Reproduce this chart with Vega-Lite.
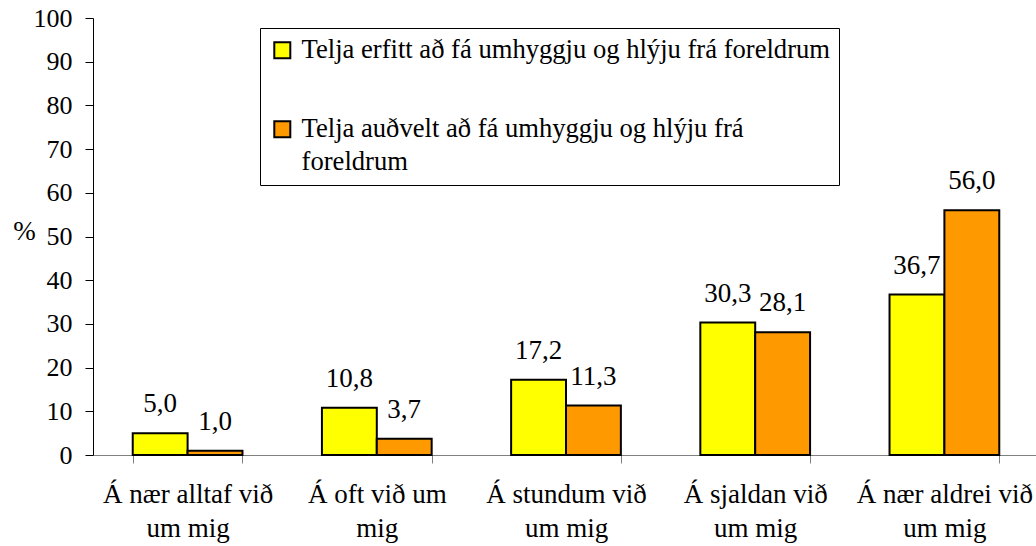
{
  "$schema": "https://vega.github.io/schema/vega-lite/v6.json",
  "width": 946,
  "height": 437,
  "autosize": "none",
  "padding": {"left": 93, "top": 18, "right": 0, "bottom": 91},
  "background": "white",
  "data": {
    "values": [
      {"category": "Á nær alltaf við um mig", "series": "Telja erfitt að fá umhyggju og hlýju frá foreldrum", "value": 5.0},
      {"category": "Á nær alltaf við um mig", "series": "Telja auðvelt að fá umhyggju og hlýju frá foreldrum", "value": 1.0},
      {"category": "Á oft við um mig", "series": "Telja erfitt að fá umhyggju og hlýju frá foreldrum", "value": 10.8},
      {"category": "Á oft við um mig", "series": "Telja auðvelt að fá umhyggju og hlýju frá foreldrum", "value": 3.7},
      {"category": "Á stundum við um mig", "series": "Telja erfitt að fá umhyggju og hlýju frá foreldrum", "value": 17.2},
      {"category": "Á stundum við um mig", "series": "Telja auðvelt að fá umhyggju og hlýju frá foreldrum", "value": 11.3},
      {"category": "Á sjaldan við um mig", "series": "Telja erfitt að fá umhyggju og hlýju frá foreldrum", "value": 30.3},
      {"category": "Á sjaldan við um mig", "series": "Telja auðvelt að fá umhyggju og hlýju frá foreldrum", "value": 28.1},
      {"category": "Á nær aldrei við um mig", "series": "Telja erfitt að fá umhyggju og hlýju frá foreldrum", "value": 36.7},
      {"category": "Á nær aldrei við um mig", "series": "Telja auðvelt að fá umhyggju og hlýju frá foreldrum", "value": 56.0}
    ]
  },
  "encoding": {
    "x": {
      "field": "category",
      "type": "nominal",
      "sort": null,
      "scale": {"paddingInner": 0.42, "paddingOuter": 0.21},
      "axis": {
        "title": null,
        "labelAngle": 0,
        "labelFont": "Liberation Serif",
        "labelFontSize": 27,
        "labelColor": "black",
        "labelLineHeight": 34,
        "labelPadding": 18,
        "labelLimit": 0,
        "labelExpr": "!datum.label ? '' : datum.label == 'Á oft við um mig' ? ['Á oft við um', 'mig'] : [replace(datum.label, ' um mig', ''), 'um mig']",
        "tickBand": "extent",
        "tickSize": 8,
        "tickColor": "#808080",
        "domainColor": "#808080",
        "grid": false
      }
    },
    "xOffset": {
      "field": "series",
      "type": "nominal",
      "sort": ["Telja erfitt að fá umhyggju og hlýju frá foreldrum", "Telja auðvelt að fá umhyggju og hlýju frá foreldrum"],
      "scale": {"paddingInner": 0, "paddingOuter": 0}
    },
    "y": {
      "field": "value",
      "type": "quantitative",
      "scale": {"domain": [0, 100], "nice": false},
      "axis": {
        "values": [0, 10, 20, 30, 40, 50, 60, 70, 80, 90, 100],
        "grid": false,
        "title": "%",
        "titleAngle": 0,
        "titleFont": "Liberation Serif",
        "titleFontSize": 27,
        "titleFontWeight": "normal",
        "titleColor": "black",
        "titleAlign": "center",
        "titleBaseline": "middle",
        "titleX": -69,
        "titleY": 213,
        "labelFont": "Liberation Serif",
        "labelFontSize": 26,
        "labelColor": "black",
        "labelPadding": 13,
        "tickSize": 8,
        "tickColor": "black",
        "domainColor": "black"
      }
    }
  },
  "layer": [
    {
      "mark": {"type": "bar", "stroke": "black", "strokeWidth": 2},
      "encoding": {
        "color": {
          "field": "series",
          "type": "nominal",
          "scale": {
            "domain": ["Telja erfitt að fá umhyggju og hlýju frá foreldrum", "Telja auðvelt að fá umhyggju og hlýju frá foreldrum"],
            "range": ["#FFFF00", "#FF9900"]
          },
          "legend": {
            "title": null,
            "orient": "none",
            "legendX": 167,
            "legendY": 10,
            "direction": "vertical",
            "strokeColor": "black",
            "fillColor": "white",
            "padding": 9,
            "rowPadding": 52,
            "symbolType": "square",
            "symbolSize": 256,
            "symbolStrokeWidth": 2,
            "symbolStrokeColor": "black",
            "symbolOpacity": 1,
            "labelFont": "Liberation Serif",
            "labelFontSize": 26.6,
            "labelColor": "black",
            "labelLimit": 0,
            "labelOffset": 6,
            "labelExpr": "datum.label == 'Telja auðvelt að fá umhyggju og hlýju frá foreldrum' ? ['Telja auðvelt að fá umhyggju og hlýju frá', 'foreldrum'] : datum.label",
            "encode": {"labels": {"update": {"lineHeight": {"value": 33}}}}
          }
        }
      }
    },
    {
      "mark": {"type": "text", "font": "Liberation Serif", "fontSize": 27, "baseline": "alphabetic", "align": "center", "dy": -21, "color": "black"},
      "encoding": {
        "text": {"field": "value", "type": "quantitative", "format": ".1f"}
      }
    }
  ],
  "config": {
    "view": {"stroke": null},
    "locale": {"number": {"decimal": ",", "thousands": ".", "grouping": [3], "currency": ["", " kr."]}}
  }
}
